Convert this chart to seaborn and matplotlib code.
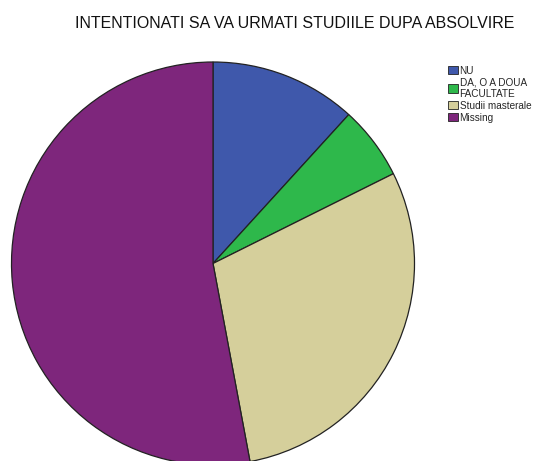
import matplotlib
matplotlib.use("Agg")
import matplotlib.pyplot as plt
import seaborn as sns

# answers, counts
categories = ["NU", "DA, O A DOUA\nFACULTATE", "Studii masterale", "Missing"]
counts = [20, 10, 50, 90]
colors = ["#3f58ab", "#2eb84b", "#d5cf9b", "#7e267c"]
title = "INTENTIONATI SA VA URMATI STUDIILE DUPA ABSOLVIRE"

sns.set_style("white")
plt.rcParams["font.family"] = ["Liberation Sans", "DejaVu Sans"]

fig = plt.figure(figsize=(5.38, 4.61), dpi=100)
ax = fig.add_axes([11.5 / 538, -4 / 461, 403 / 538, 403 / 461])

wedges, _ = ax.pie(counts, colors=colors, startangle=90, counterclock=False,
                   radius=1.0, wedgeprops=dict(edgecolor="#222222", linewidth=0.9))
ax.set_xlim(-1.0, 1.0)
ax.set_ylim(-1.0, 1.0)
ax.set_aspect("equal")

fig.text(295 / 538, 1 - 23 / 461, title, ha="center", va="center",
         fontsize=11.5, color="#111111")

leg = fig.legend(wedges, categories, loc="upper left",
                 bbox_to_anchor=(441 / 538, 1 - 58.5 / 461), frameon=False,
                 fontsize=7.2, handlelength=0.95, handleheight=0.9,
                 handletextpad=0.2, labelspacing=0.2, borderpad=0.2)
for t in leg.get_texts():
    t.set_linespacing(1.15)
for h in leg.legend_handles:
    h.set_edgecolor("#222222")
    h.set_linewidth(0.6)

fig.savefig("out.png", dpi=100)
